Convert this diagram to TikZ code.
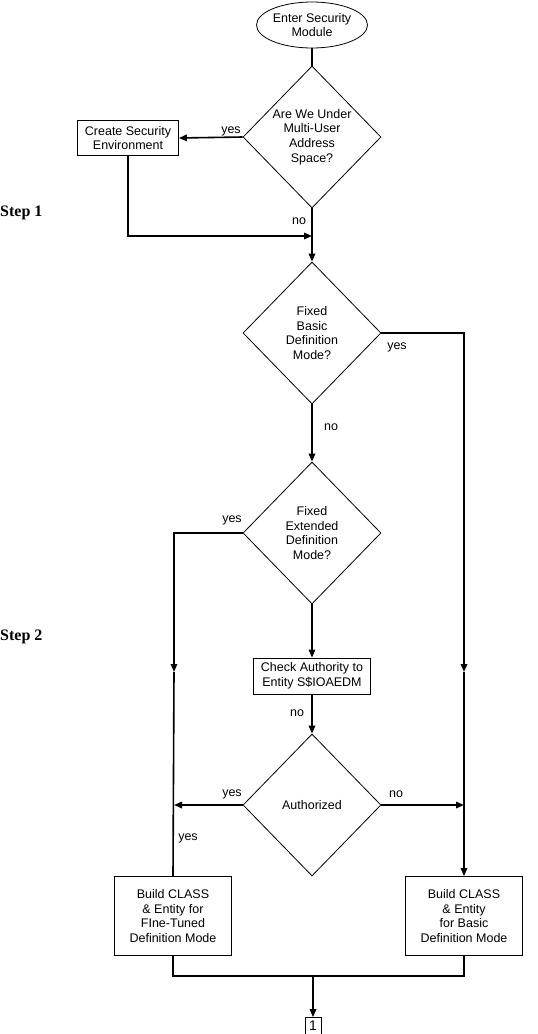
\documentclass[tikz,border=0pt]{standalone}
\usepackage{fontspec}
\setmainfont{Liberation Sans}
\newfontfamily\steplabelfont{Liberation Serif}
\usetikzlibrary{shapes.geometric}
\usetikzlibrary{arrows.meta}
\definecolor{color_flow_line}{HTML}{000000}
\definecolor{color_flow_shape}{HTML}{000000}
\def\flowlinewidth{1.6pt}
\def\shapelinewidth{0.8pt}
\def\flowlabelsize{\fontsize{12.5}{14.7}\selectfont}
\def\steplabelsize{\fontsize{16}{16}\selectfont}

\begin{document}
\begin{tikzpicture}[x=1pt,y=-1pt,
        flowline/.style={color_flow_line,line width=\flowlinewidth},
        flowarrow/.style={flowline,-{Triangle[length=8pt,width=6.5pt]}},
        decision/.style={diamond,draw=color_flow_shape,line width=\shapelinewidth,inner sep=0pt,
            minimum width=138pt,minimum height=142pt,align=center,font=\flowlabelsize},
        process/.style={rectangle,draw=color_flow_shape,line width=\shapelinewidth,inner sep=0pt,
            align=center,font=\flowlabelsize},
        answer/.style={inner sep=0pt,font=\flowlabelsize},
        steplabel/.style={inner sep=0pt,anchor=west,font=\steplabelfont\bfseries\steplabelsize}]
        \useasboundingbox (0,0) rectangle (538,1034);
        % shapes
        \node[ellipse,draw=color_flow_shape,line width=\shapelinewidth,inner sep=0pt,minimum width=98pt,minimum height=46pt,align=center,font=\flowlabelsize] (enter) at (312,25) {Enter Security\\Module};
        \node[decision] (multiuser) at (312,137) {Are We Under\\Multi-User\\Address\\Space?};
        \node[process,minimum width=101pt,minimum height=35pt] (createenv) at (128,138) {Create Security\\Environment};
        \node[decision] (basicmode) at (312,333) {Fixed\\Basic\\Definition\\Mode?};
        \node[decision] (extmode) at (312,533) {Fixed\\Extended\\Definition\\Mode?};
        \node[process,minimum width=117pt,minimum height=36pt] (checkauth) at (312,676) {Check Authority to\\Entity S\$IOAEDM};
        \node[decision] (authorized) at (312,805) {Authorized};
        \node[process,minimum width=117pt,minimum height=79pt] (finebox) at (173,916) {Build CLASS\\\& Entity for\\FIne-Tuned\\Definition Mode};
        \node[process,minimum width=117pt,minimum height=79pt] (basicbox) at (464,916) {Build CLASS\\\& Entity\\for Basic\\Definition Mode};
        \node[draw=color_flow_shape,line width=\shapelinewidth,inner sep=0pt,minimum width=16pt,minimum height=17pt,font=\fontsize{14}{14}\selectfont] (connector) at (313,1026) {1};
        % meeting points on the lines
        \coordinate (join1) at (312,236);
        \coordinate (rightmid) at (464,672);
        \coordinate (leftmid) at (174,672);
        \coordinate (leftauth) at (174,805);
        \coordinate (rightauth) at (464,805);
        \coordinate (merge) at (313,976);
        % connectors
        \draw[flowline] (enter) -- (multiuser);
        \draw[flowarrow] (multiuser.west) -- (createenv.east);
        \draw[flowarrow] (createenv.south) |- (join1);
        \draw[flowarrow] (multiuser.south) -- (basicmode.north);
        \draw[flowarrow] (basicmode.east) -| (rightmid);
        \draw[flowarrow] (rightmid) -- (basicbox.north);
        \draw[flowarrow] (basicmode.south) -- (extmode.north);
        \draw[flowarrow] (extmode.west) -| (leftmid);
        \draw[flowline] (leftmid) -- (finebox.north);
        \draw[flowarrow] (extmode.south) -- (checkauth.north);
        \draw[flowarrow] (checkauth.south) -- (authorized.north);
        \draw[flowarrow] (authorized.west) -- (leftauth);
        \draw[flowarrow] (authorized.east) -- (rightauth);
        \draw[flowline] (finebox.south) |- (merge) -| (basicbox.south);
        \draw[flowarrow] (merge) -- (connector.north);
        % answers
        \node[answer] (yes1) at (231,131) {yes};
        \node[answer] (no1) at (299,221) {no};
        \node[answer] (yes2) at (397,347) {yes};
        \node[answer] (no2) at (331,427) {no};
        \node[answer] (yes3) at (232,520) {yes};
        \node[answer] (no3) at (297,713) {no};
        \node[answer] (yes4) at (232,794) {yes};
        \node[answer] (no4) at (396,794) {no};
        \node[answer] (yes5) at (188,838) {yes};
        % step labels
        \node[steplabel] (step1) at (0,213) {Step 1};
        \node[steplabel] (step2) at (0,637) {Step 2};
    \end{tikzpicture}
\end{document}
